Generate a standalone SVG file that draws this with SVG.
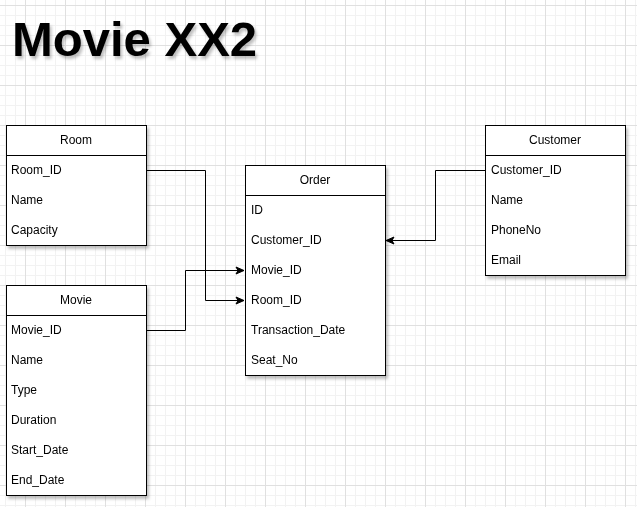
<svg xmlns="http://www.w3.org/2000/svg" width="637" height="507" viewBox="0 0 637 507">
<defs>
<pattern id="minor" width="10" height="10" patternUnits="userSpaceOnUse" x="5" y="5">
<path d="M0 0.5H10M0.5 0V10" fill="none" stroke="#f2f2f2" stroke-width="1"/>
</pattern>
<pattern id="major" width="40" height="40" patternUnits="userSpaceOnUse" x="25" y="5">
<path d="M0 0.5H40M0.5 0V40" fill="none" stroke="#e0e0e0" stroke-width="1"/>
</pattern>
<filter id="sh" x="-20%" y="-20%" width="140%" height="140%">
<feDropShadow dx="2" dy="3" stdDeviation="1.5" flood-color="#000" flood-opacity="0.25"/>
</filter>
<marker id="arr" markerWidth="10" markerHeight="10" refX="9" refY="5" orient="auto" markerUnits="userSpaceOnUse">
<path d="M1 1.5L9 5L1 8.5L3 5Z" fill="#000" stroke="#000" stroke-width="1"/>
</marker>
<style>
.box{fill:#fff;stroke:#000;stroke-width:1}
.t{font-family:"Liberation Sans",Arial,Helvetica,sans-serif;font-size:12px;fill:#000}
.h{text-anchor:middle}
.c{fill:none;stroke:#000;stroke-width:1}
</style>
</defs>
<rect width="637" height="507" fill="#fff"/>
<rect width="637" height="507" fill="url(#minor)"/>
<rect width="637" height="507" fill="url(#major)"/>
<text x="12" y="56" font-family="Liberation Sans,Arial,sans-serif" font-weight="bold" font-size="49" filter="url(#sh)">Movie XX2</text>

<g id="connectors">
<path class="c" d="M146 170.5H205.5V300.5H244" marker-end="url(#arr)"/>
<path class="c" d="M146 330.5H185.5V270.5H244" marker-end="url(#arr)"/>
<path class="c" d="M485 170.5H435.5V240.5H386" marker-end="url(#arr)"/>
</g>

<g id="room" filter="url(#sh)">
<rect class="box" x="6.5" y="125.5" width="140" height="120"/>
<path class="c" d="M6.5 155.5H146.5"/>
<text class="t h" x="76" y="144">Room</text>
<text class="t" x="11" y="174">Room_ID</text>
<text class="t" x="11" y="204">Name</text>
<text class="t" x="11" y="234">Capacity</text>
</g>

<g id="movie" filter="url(#sh)">
<rect class="box" x="6.5" y="285.5" width="140" height="210"/>
<path class="c" d="M6.5 315.5H146.5"/>
<text class="t h" x="76" y="304">Movie</text>
<text class="t" x="11" y="334">Movie_ID</text>
<text class="t" x="11" y="364">Name</text>
<text class="t" x="11" y="394">Type</text>
<text class="t" x="11" y="424">Duration</text>
<text class="t" x="11" y="454">Start_Date</text>
<text class="t" x="11" y="484">End_Date</text>
</g>

<g id="order" filter="url(#sh)">
<rect class="box" x="245.5" y="165.5" width="140" height="210"/>
<path class="c" d="M245.5 195.5H385.5"/>
<text class="t h" x="315" y="184">Order</text>
<text class="t" x="251" y="214">ID</text>
<text class="t" x="251" y="244">Customer_ID</text>
<text class="t" x="251" y="274">Movie_ID</text>
<text class="t" x="251" y="304">Room_ID</text>
<text class="t" x="251" y="334">Transaction_Date</text>
<text class="t" x="251" y="364">Seat_No</text>
</g>

<g id="customer" filter="url(#sh)">
<rect class="box" x="485.5" y="125.5" width="140" height="150"/>
<path class="c" d="M485.5 155.5H625.5"/>
<text class="t h" x="555" y="144">Customer</text>
<text class="t" x="491" y="174">Customer_ID</text>
<text class="t" x="491" y="204">Name</text>
<text class="t" x="491" y="234">PhoneNo</text>
<text class="t" x="491" y="264">Email</text>
</g>
</svg>
